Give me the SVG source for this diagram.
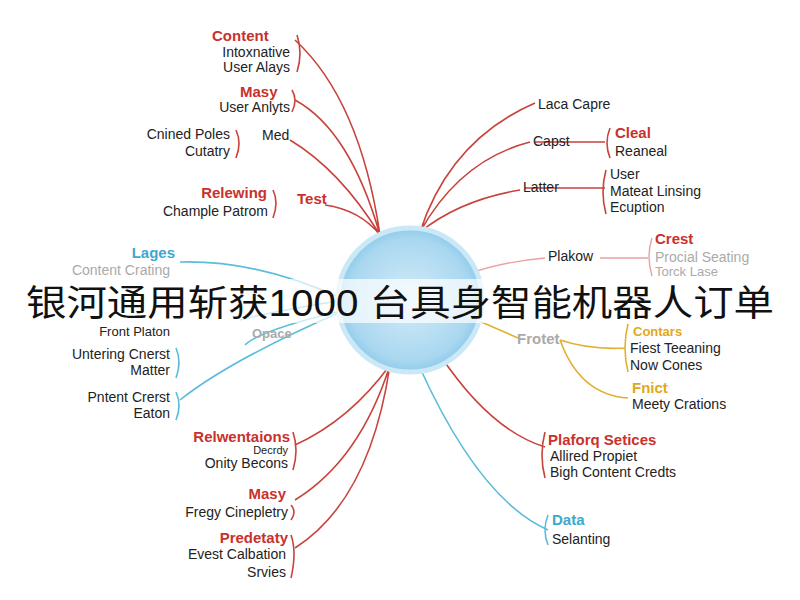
<svg xmlns="http://www.w3.org/2000/svg" width="800" height="600" viewBox="0 0 800 600">
<defs>
<radialGradient id="g" cx="50%" cy="50%" r="50%"><stop offset="0" stop-color="#d4ecf8"/><stop offset="0.85" stop-color="#a9d7f0"/><stop offset="1" stop-color="#8fcbea"/></radialGradient>
</defs>
<style>
text{font-family:"Liberation Sans",Arial,sans-serif;font-size:14px;fill:#222}
.h{font-weight:bold;fill:#c8322c;font-size:15px}
.c{font-weight:bold;fill:#3aa9cf;font-size:15px}
.y{font-weight:bold;fill:#e0a820;font-size:15px}
.f{fill:#aaa}
.r{text-anchor:end}
.lr{fill:none;stroke:#c8433c;stroke-width:1.6}
.lc{fill:none;stroke:#5bbcdc;stroke-width:1.6}
.ly{fill:none;stroke:#e2b030;stroke-width:1.6}
.lp{fill:none;stroke:#e8a0a0;stroke-width:1.4}
.t{font-size:36px;fill:#111;font-family:"Liberation Sans","Noto Sans CJK SC",sans-serif}
</style>
<rect width="800" height="600" fill="#fff"/>
<g id="connectors">
<path class="lr" d="M380 235 Q360 100 295 40 M380 235 Q350 130 295 100 M380 235 Q340 170 290 140 M380 235 Q360 210 325 205"/>
<path class="lr" d="M297 35 Q303 53 297 72 M292 90 Q298 100 292 112 M236 130 Q242 143 236 158 M273 190 Q279 202 273 218"/>
<path class="lc" d="M345 300 Q260 260 180 262 M345 300 Q280 310 240 320 M345 310 Q260 330 245 345 M345 310 Q230 360 180 400"/>
<path class="lc" d="M176 348 Q182 362 176 378 M176 392 Q182 405 176 420"/>
<path class="lr" d="M390 365 Q350 420 295 445 M390 365 Q360 460 295 500 M390 365 Q370 500 295 548"/>
<path class="lr" d="M293 432 Q299 450 293 470 M291 505 Q297 512 291 520 M291 535 Q297 552 291 578"/>
<path class="lr" d="M420 232 Q450 140 535 103 M420 232 Q460 160 530 142 M420 232 Q460 200 520 190 M535 142 L605 142 M525 188 L605 188"/>
<path class="lr" d="M610 128 Q604 143 610 158 M606 170 Q600 192 606 214"/>
<path class="lp" d="M465 275 Q500 262 545 258 M600 258 L648 258 M652 238 Q646 256 652 276"/>
<path class="ly" d="M465 315 Q500 330 518 338 M560 340 Q590 350 625 348 M560 340 Q580 395 628 398 M628 324 Q622 347 628 372"/>
<path class="lr" d="M440 355 Q490 430 545 447 M545 432 Q539 455 545 478"/>
<path class="lc" d="M420 368 Q480 500 548 530 M548 515 Q542 530 548 545"/>
</g>
<g id="center"><circle cx="410" cy="300" r="72" fill="url(#g)" stroke="#cbe8f6" stroke-width="5"/></g>
<g id="n1"><text class="h" x="212" y="41">Content</text><text class="r" x="290" y="57">Intoxnative</text><text class="r" x="290" y="72">User Alays</text></g>
<g id="n2"><text class="h" x="240" y="97">Masy</text><text class="r" x="290" y="112">User Anlyts</text></g>
<g id="n3"><text class="r" x="230" y="139">Cnined Poles</text><text class="r" x="230" y="156">Cutatry</text><text x="262" y="140">Med</text></g>
<g id="n4"><text class="h r" x="267" y="198">Relewing</text><text class="h" x="297" y="204">Test</text><text class="r" x="268" y="216">Chample Patrom</text></g>
<g id="n5"><text class="c r" x="175" y="258">Lages</text><text class="f r" x="170" y="275">Content Crating</text><text class="c f" x="252" y="338" style="font-size:13px">Opace</text><text class="r" x="170" y="336" style="font-size:13px">Front Platon</text></g>
<g id="n6"><text class="r" x="170" y="359">Untering Cnerst</text><text class="r" x="170" y="375">Matter</text></g>
<g id="n7"><text class="r" x="170" y="402">Pntent Crerst</text><text class="r" x="170" y="418">Eaton</text></g>
<g id="n8"><text class="h r" x="290" y="442">Relwentaions</text><text class="r" x="288" y="454" style="font-size:11px">Decrdy</text><text class="r" x="288" y="468">Onity Becons</text></g>
<g id="n9"><text class="h r" x="286" y="499">Masy</text><text class="r" x="288" y="517">Fregy Cinepletry</text></g>
<g id="n10"><text class="h r" x="288" y="543">Predetaty</text><text class="r" x="286" y="559">Evest Calbation</text><text class="r" x="286" y="577">Srvies</text></g>
<g id="n11"><text x="538" y="109">Laca Capre</text></g>
<g id="n12"><text x="533" y="146">Capst</text><text class="h" x="615" y="138">Cleal</text><text x="615" y="156">Reaneal</text></g>
<g id="n13"><text x="523" y="192">Latter</text><text x="610" y="179">User</text><text x="610" y="196">Mateat Linsing</text><text x="610" y="212">Ecuption</text></g>
<g id="n14"><text x="548" y="261">Plakow</text><text class="h" x="655" y="244">Crest</text><text class="f" x="655" y="262">Procial Seating</text><text class="f" x="655" y="276" style="font-size:13px">Torck Lase</text></g>
<g id="n15"><text class="y f" x="517" y="344">Frotet</text><text class="y" x="633" y="336" style="font-size:13px">Contars</text><text x="630" y="353">Fiest Teeaning</text><text x="630" y="370">Now Cones</text></g>
<g id="n16"><text class="y" x="632" y="393">Fnict</text><text x="632" y="409">Meety Crations</text></g>
<g id="n17"><text class="h" x="548" y="445">Plaforq Setices</text><text x="550" y="461">Allired Propiet</text><text x="550" y="477">Bigh Content Credts</text></g>
<g id="n18"><text class="c" x="552" y="525">Data</text><text x="552" y="544">Selanting</text></g>
<g id="title"><rect x="0" y="279" width="800" height="44" fill="#fff" opacity="0.7"/><text class="t" x="26" y="316" textLength="748" lengthAdjust="spacingAndGlyphs">银河通用斩获1000 台具身智能机器人订单</text></g>
</svg>
